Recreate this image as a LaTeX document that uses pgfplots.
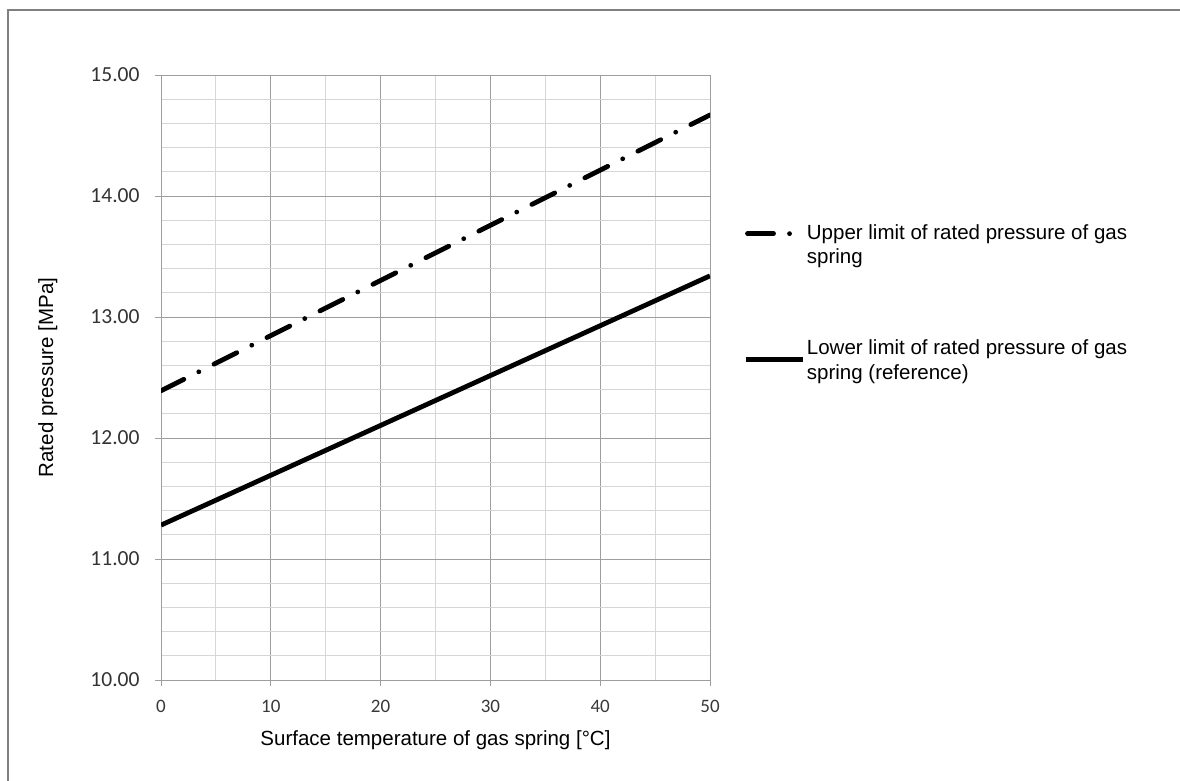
\documentclass[border=0pt]{standalone}
\usepackage{fontspec}
\setmainfont{Liberation Sans}
\newfontfamily\carlito{Carlito}
\usepackage{pgfplots}
\pgfplotsset{compat=1.18}
\begin{document}
\begin{tikzpicture}[x=1pt,y=1pt]
\useasboundingbox (0,0) rectangle (1180,780);
\draw[color=black!50, line width=1.5pt] (8,-5) -- (8,770) -- (1185,770);
\begin{axis}[
  at={(161pt,100pt)}, anchor=south west,
  scale only axis, width=549pt, height=605pt,
  xmin=0, xmax=50, ymin=10, ymax=15,
  xtick={0,10,...,50}, ytick={10,11,...,15},
  minor x tick num=1, minor y tick num=4,
  grid=both,
  major grid style={color=black!38, line width=0.9pt},
  minor grid style={color=black!16, line width=0.9pt},
  axis line style={color=black!38, line width=0.9pt},
  tick align=outside, xtick pos=bottom, ytick pos=left,
  major tick length=6pt, minor tick length=0pt,
  tick style={color=black!38, line width=0.9pt},
  /pgf/number format/assume math mode=true,
  yticklabel={\pgfmathprintnumber[fixed,fixed zerofill,precision=2]{\tick}},
  xticklabel={\pgfmathprintnumber{\tick}},
  yticklabel style={font=\carlito\fontsize{21.5}{22}\selectfont, text=black!80, anchor=east, xshift=-12pt},
  xticklabel style={font=\carlito\fontsize{19}{20}\selectfont, text=black!78, anchor=center, yshift=-20pt},
  xlabel={Surface temperature of gas spring [°C]},
  ylabel={Rated pressure [MPa]},
  label style={font=\fontsize{20.5}{24.5}\selectfont},
  xlabel style={at={(axis description cs:0.5,-0.099)}, anchor=center},
  ylabel style={at={(axis description cs:-0.206,0.5)}, anchor=center, rotate=0},
  legend style={at={(axis description cs:1.06,0.757)}, anchor=north west, draw=none, fill=none,
    font=\fontsize{20.5}{24.5}\selectfont, row sep=71pt, inner sep=0pt,
    cells={align=left}, column sep=0pt},
  legend cell align=left,
]
\addplot[black, line width=4.8pt, line cap=round, dash pattern=on 25.5pt off 16.8pt on 0pt off 17pt,
  legend image code/.code={\draw[black, line width=4.8pt, line cap=round, dash pattern=on 26pt off 16pt on 0pt off 30pt] (2pt,11pt) -- (46pt,11pt);}]
  coordinates {(0,12.39) (50,14.67)};
\addlegendentry{Upper limit of rated pressure of gas\\spring}
\addplot[black, line width=4.8pt,
  legend image code/.code={\draw[black, line width=4.8pt] (0pt,1pt) -- (57pt,1pt);}]
  coordinates {(0,11.28) (50,13.34)};
\addlegendentry{Lower limit of rated pressure of gas\\spring (reference)}
\end{axis}
\end{tikzpicture}
\end{document}
